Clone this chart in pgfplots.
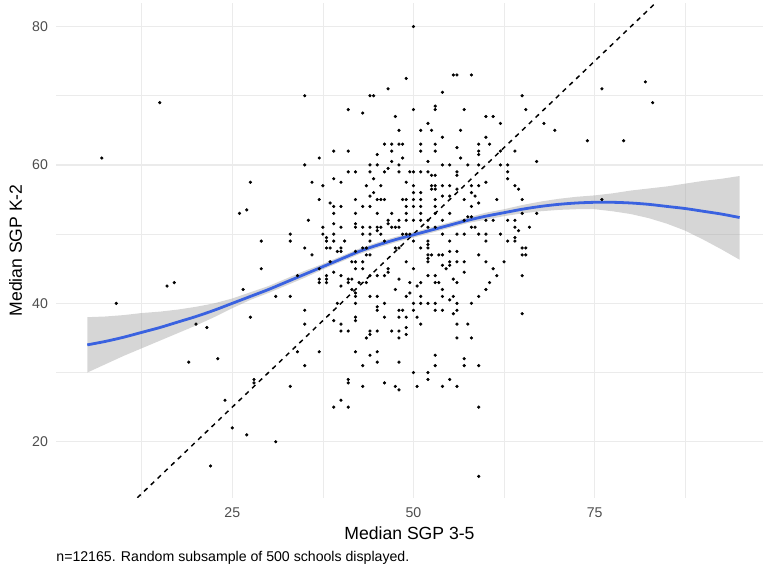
\documentclass[border=0pt]{standalone}
\usepackage{fontspec}
\setmainfont{Liberation Sans}
\usepackage{pgfplots}
\usepackage{pgfplotstable}
\pgfplotsset{compat=1.18}
\usepgfplotslibrary{fillbetween}
\definecolor{gridc}{HTML}{EBEBEB}
\definecolor{tickc}{HTML}{4D4D4D}
\definecolor{sgblue}{HTML}{3A62E0}
\definecolor{bandc}{HTML}{999999}

\pgfplotstableread{
x y lo hi
5 34.0 30.0 38.0
7.5 34.5 31.2 38.1
10 35.1 32.4 38.3
12.5 35.8 33.5 38.6
15 36.5 34.6 38.8
17.5 37.3 35.7 39.1
20 38.1 36.8 39.5
22.5 39.0 38.0 40.0
25 40.0 39.3 40.7
27.5 41.0 40.5 41.6
30 42.0 41.5 42.5
32.5 43.1 42.6 43.6
35 44.2 43.7 44.7
37.5 45.3 44.9 45.7
40 46.4 46.0 46.8
42.5 47.5 47.1 47.9
45 48.4 48.0 48.8
47.5 49.2 48.8 49.6
50 49.9 49.5 50.3
52.5 50.6 50.2 51.0
55 51.3 50.9 51.7
57.5 52.0 51.6 52.4
60 52.6 52.1 53.1
62.5 53.1 52.6 53.6
65 53.6 53.0 54.2
67.5 54.0 53.3 54.7
70 54.3 53.5 55.1
72.5 54.5 53.6 55.4
75 54.6 53.6 55.6
77.5 54.6 53.3 55.9
80 54.5 52.9 56.3
82.5 54.3 52.3 56.6
85 54.0 51.5 56.9
87.5 53.7 50.5 57.3
90 53.3 49.2 57.7
92.5 52.9 47.8 58.0
95 52.4 46.3 58.4
}\smoothtab

\begin{document}
\begin{tikzpicture}
\begin{axis}[
  name=ax,
  at={(0,0)}, anchor=south west,
  scale only axis, width=530pt, height=371.1pt,
  xmin=0.7, xmax=98.2, ymin=11.9, ymax=83.4,
  axis line style={draw=none},
  major tick length=0pt, minor tick length=0pt,
  tick style={draw=none},
  xtick={25,50,75}, ytick={20,40,60,80},
  minor xtick={12.5,37.5,62.5,87.5}, minor ytick={30,50,70},
  grid=both,
  major grid style={gridc, line width=0.9pt},
  minor grid style={gridc, line width=0.5pt},
  /pgf/number format/assume math mode=true,
  ticklabel style={font=\fontsize{10.6}{12}\selectfont, text=tickc},
  xticklabel style={anchor=center, yshift=-11.4pt},
  yticklabel style={anchor=east, inner sep=0pt, xshift=-6pt},
  xlabel={Median SGP 3-5},
  xlabel style={at={(axis description cs:0.5,-0.0711)}, anchor=center, font=\fontsize{13.2}{15}\selectfont},
  ylabel={Median SGP K-2},
  ylabel style={at={(axis description cs:-0.0575,0.5)}, anchor=center, font=\fontsize{13.2}{15}\selectfont},
  clip=true,
]
\addplot[only marks, mark=*, mark size=1.0pt, black] coordinates {
(49,72.5) (46.5,71) (35,70) (44,70) (44.5,70) (41,68) (43,67.5) (47.5,67) (48,65)
(46,63) (47,63) (48,63) (48.5,63) (39,62) (41,62) (47,62) (45,61.5) (48.5,61) (37,61)
(47,60.5) (35,60) (44,60) (45,60) (48,60) (46.5,59.5) (41,59) (42,59) (44,59) (46,59)
(48,59) (49.5,59) (39,58) (44.5,58) (36,57.5) (40,57.5) (37.5,57) (43.5,57) (45.5,57)
(44.5,56) (44,55.5) (37,55) (38.5,54.5) (39,54) (40,54) (42,55) (45,55) (45.5,55) (46,55)
(48.5,55) (49,55) (43,54) (44,54) (49,54) (39,53) (42,53) (45,53) (47,53) (49,53)
(35.5,52) (46.5,52) (46.5,51.5) (48,52) (49,52) (39,51.5) (42,51.5) (42,51) (37.5,51)
(40,51) (43,51) (44,51) (45,51) (45.5,51) (47,51) (47.5,51) (48,51) (45,50.5) (33,50)
(37.5,50) (39,50) (43,50) (44,50) (45.5,50) (48.5,50) (49,50) (49.5,50) (33,49) (38,49.5)
(38,49) (39,49) (40.5,49) (44,49) (46,49) (35,48) (38,48) (38.5,48) (40,48) (43,48)
(43.5,48) (47.5,48) (48,48)
(55.5,73) (56,73) (58,73) (54,70.5) (65,70) (53,68.5) (53,68) (50,68) (57,68) (65.5,68)
(60,67) (61,67) (52,66) (62,66) (68,66) (51,65) (52.5,65) (56.5,65) (54,64) (60,64)
(51,63) (53,63) (59,63) (60.5,63) (56,62.5) (51,62) (53,62) (59,62) (59,61.5) (62,62)
(64,62) (56.5,61) (52,60.5) (67,60.5) (54,60) (55,60) (57.5,60) (59,60) (62,60) (63,60)
(50,59) (51,59) (52,59) (56,59) (56,58.5) (52.5,58.5) (53,58.5) (63,59) (63,58) (60,57.5)
(49,57.5) (50,57) (52.5,57) (53,57) (54,57) (55,57) (58,57) (59,57) (64,57) (53,56.5)
(56,56.5) (50,56) (51,56) (52.5,56.5) (58,56) (58.5,55.5) (55,55.5) (54,55.5) (64.5,56.5)
(50,55) (51,55) (53,55) (57,55) (59,54.5) (61.5,55) (65,55) (50,54) (51,54) (53,54) (58,54)
(51,53) (53,53) (55,53) (57.5,52.5) (58,52.5) (50,52) (51,52) (52,52) (54,52) (57,52)
(60,52) (61,52) (63,52) (64,52) (65,53) (66,51) (64,51) (58,51) (58.5,51) (52,51) (53,51)
(54,50) (56,50) (57,50) (59,50) (60,50) (62,50) (64.5,50.5) (50,49) (52,49) (52,48.5)
(55,49) (60,49) (63,49) (64,49) (64,49.5) (51,48) (52,48) (65,48) (65.5,48)
(39.5,47.5) (40,47.5) (36,47) (42,47.5) (43.5,47) (44,47) (41.5,46) (42,46) (43,46)
(38.5,46) (37,45) (39,44.5) (42,45) (43,45) (46.5,45) (46.5,44.5) (40,44) (34,44)
(37,43.5) (37,43) (38,44) (38,43.5) (38,43) (41,43.5) (41.5,43.5) (41,43) (42.5,43)
(43.5,43) (44,44) (45,44) (46,44) (48,43.5) (40,42.5) (47.5,42) (41.5,42) (42,41.5)
(42,41) (49.5,41.5) (31,41) (33,41) (44,41) (45,41) (49,41) (39.5,40) (42,40) (46,40)
(45,39.5) (45,39) (35,39) (48,39) (48.5,39) (42,38) (42,37.5) (46,38) (48,38) (49,38)
(39,37.5) (35,37) (40,37) (49,36.5) (40,36) (41,36) (44,36) (44,35.5) (45,36) (47,36)
(48,36) (48,35) (49,35.5) (43.5,35) (34,33) (37,33) (42,33) (45,33) (44,32.5) (35,31)
(45,31.5) (48,31.5) (43,31) (41,29) (41,28.5) (33,28) (43,28) (46,28.5) (47.5,28)
(48,27.5) (40,26) (39,25) (41,25)
(52,47) (52,46.5) (52,46) (52.5,47) (53.5,47) (54,47) (55,47.5) (56,47.5) (59,47) (65,47)
(65.5,47) (49,46) (55,46) (56,46) (57,46) (55,45.5) (54,45.5) (54.5,45) (60,46) (62.5,46)
(61,45) (50,45) (52,44) (53,44) (57,44.5) (61.5,44) (65,44) (49.5,43) (51,43) (53,43)
(53.5,43) (56,43) (55.5,43.5) (50.5,42.5) (60.5,43) (54,42) (60,42) (51,41) (54,41)
(55.5,41) (59,41) (55,40.5) (50,40) (51,40) (52,40) (53,40) (56,40) (58,40) (50,39)
(53,39) (54,39) (56,39) (55.5,38.5) (65,38.5) (50.5,38) (51,37) (56,37) (57.5,37) (56,35)
(58,35) (53,32.5) (53,31) (57,32) (57,31) (59,31) (50,30) (52,30) (52,29) (50.5,28) (54,28)
(56,28) (55,29) (59,25)
(27.5,57.5) (26,53) (27,53.5) (29,49) (29,45) (26.5,42) (16,42.5) (17,43) (9,40)
(27.5,38) (20,37) (21.5,36.5) (19,31.5) (23,32) (28,29) (28,28.5) (24,26) (25,22) (27,21)
(22,16.5) (31,20) (76,71) (82,72) (83,69) (69.5,65) (74,63.5) (79,63.5) (76,55) (67,53)
(50,80) (15,69) (7,61) (59,15)
};
\addplot[black, line width=1.1pt, dash pattern=on 3.5pt off 3.5pt, forget plot] coordinates {(11.9,11.9) (83.4,83.4)};
\addplot[name path=hi, draw=none, forget plot] table[x=x,y=hi]{\smoothtab};
\addplot[name path=lo, draw=none, forget plot] table[x=x,y=lo]{\smoothtab};
\addplot[fill=bandc, fill opacity=0.4, draw=none, forget plot] fill between[of=hi and lo];
\addplot[sgblue, line width=2.1pt, smooth, forget plot] table[x=x,y=y]{\smoothtab};
\end{axis}
\node[anchor=west, inner sep=0pt, font=\fontsize{10.6}{12}\selectfont] at (0pt,-44.9pt) {n=12165. Random subsample of 500 schools displayed.};
\pgfresetboundingbox
\useasboundingbox (-42.1pt,-53.4pt) rectangle (530.15pt,373.35pt);
\end{tikzpicture}
\end{document}
